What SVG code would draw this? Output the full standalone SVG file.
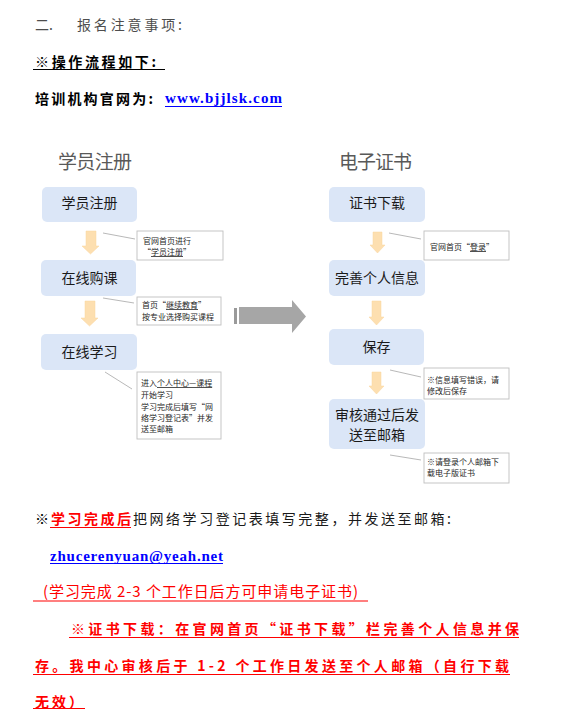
<svg xmlns="http://www.w3.org/2000/svg" width="561" height="719" viewBox="0 0 561 719">
<defs>
<style>
text{font-family:"Noto Sans CJK SC","Liberation Sans",sans-serif;}
.mono{font-family:"Liberation Serif","Noto Sans CJK SC",serif;font-weight:bold;}
.head{font-size:14px;}
.b{font-weight:bold;}
.title{font-size:19px;fill:#595959;}
.box{fill:#dbe6f7;}
.btxt{font-size:14px;fill:#1a1a1a;text-anchor:middle;}
.note{fill:#ffffff;stroke:#bfbfbf;stroke-width:0.9;}
.ntxt{font-size:8px;fill:#262626;}
.u{text-decoration:underline;}
.dn{fill:#fddfb0;stroke:#f8d49f;stroke-width:0.5;}
.lead{stroke:#a6a6a6;stroke-width:0.8;fill:none;}
.red{fill:#ff0000;}
.rl{stroke:#ff0000;stroke-width:1.2;}
</style>
</defs>
<rect width="561" height="719" fill="#ffffff"/>

<g id="header">
<text x="35" y="30" class="head" fill="#4d4d4d">二.</text>
<text x="77" y="30" class="head" fill="#4d4d4d" textLength="105" lengthAdjust="spacing">报名注意事项:</text>
<text x="35" y="67" class="head b" fill="#000" textLength="121" lengthAdjust="spacing">※操作流程如下:</text>
<line x1="33" y1="69.5" x2="165" y2="69.5" stroke="#000" stroke-width="1.2"/>
<text x="35" y="104" class="head b" fill="#000" textLength="118" lengthAdjust="spacing">培训机构官网为:</text>
<text x="165" y="103" class="mono" font-size="15" fill="#0000ff" textLength="117" lengthAdjust="spacing">www.bjjlsk.com</text>
<line x1="165" y1="106.5" x2="282" y2="106.5" stroke="#0000ff" stroke-width="1.2"/>
</g>

<g id="title-left"><text x="58" y="169" class="title" textLength="74" lengthAdjust="spacing">学员注册</text></g>
<g id="title-right"><text x="339" y="169" class="title" textLength="73" lengthAdjust="spacing">电子证书</text></g>

<g id="n-register"><rect class="box" x="42" y="187" width="95" height="35" rx="5"/><text class="btxt" x="89.5" y="208">学员注册</text></g>
<g id="n-buy"><rect class="box" x="41" y="260" width="95" height="36" rx="5"/><text class="btxt" x="89.5" y="283">在线购课</text></g>
<g id="n-study"><rect class="box" x="41" y="334" width="96" height="36" rx="5"/><text class="btxt" x="89.5" y="357">在线学习</text></g>

<g id="n-download"><rect class="box" x="329" y="187" width="96" height="35" rx="5"/><text class="btxt" x="377" y="208">证书下载</text></g>
<g id="n-info"><rect class="box" x="329" y="260" width="96" height="36" rx="5"/><text class="btxt" x="377" y="283">完善个人信息</text></g>
<g id="n-save"><rect class="box" x="329" y="329" width="95" height="36" rx="5"/><text class="btxt" x="376.5" y="352">保存</text></g>
<g id="n-review"><rect class="box" x="329" y="399" width="96" height="50" rx="5"/><text class="btxt" x="377" y="420">审核通过后发</text><text class="btxt" x="377" y="440">送至邮箱</text></g>

<g id="note-1"><rect class="note" x="137" y="231" width="86" height="29"/>
<text class="ntxt" x="143" y="244">官网首页进行</text>
<text class="ntxt" x="143" y="255">“<tspan class="u">学员注册</tspan>”</text></g>
<g id="note-2"><rect class="note" x="137" y="297" width="84" height="28"/>
<text class="ntxt" x="142" y="308">首页“<tspan class="u">继续教育</tspan>”</text>
<text class="ntxt" x="142" y="320">按专业选择购买课程</text></g>
<g id="note-3"><rect class="note" x="137" y="372" width="84" height="67"/>
<text class="ntxt" x="141" y="386">进入<tspan class="u">个人中心—课程</tspan></text>
<text class="ntxt" x="141" y="398">开始学习</text>
<text class="ntxt" x="141" y="410">学习完成后填写“网</text>
<text class="ntxt" x="141" y="421">络学习登记表”并发</text>
<text class="ntxt" x="141" y="432">送至邮箱</text></g>
<g id="note-4"><rect class="note" x="424" y="231" width="85" height="29"/>
<text class="ntxt" x="430" y="250">官网首页“<tspan class="u">登录</tspan>”</text></g>
<g id="note-5"><rect class="note" x="424" y="368" width="85" height="31"/>
<text class="ntxt" x="427" y="383">※信息填写错误，请</text>
<text class="ntxt" x="427" y="394">修改后保存</text></g>
<g id="note-6"><rect class="note" x="424" y="453" width="85" height="30"/>
<text class="ntxt" x="427" y="465">※请登录个人邮箱下</text>
<text class="ntxt" x="427" y="476">载电子版证书</text></g>

<g id="connectors">
<polygon class="dn" points="86,231 96,231 96,246 99,246 90.5,254 82,246 86,246"/>
<polygon class="dn" points="85,301 95,301 95,318 98,318 89.5,326 81,318 85,318"/>
<polygon class="dn" points="373,232 382,232 382,245 385,245 377.5,253 370,245 373,245"/>
<polygon class="dn" points="372,301 381,301 381,317 384,317 376.5,325 369,317 372,317"/>
<polygon class="dn" points="372,372 381,372 381,386 384,386 376.5,394 369,386 372,386"/>
<line class="lead" x1="103" y1="233" x2="135" y2="239"/>
<line class="lead" x1="103" y1="298" x2="134" y2="303"/>
<line class="lead" x1="105" y1="372" x2="132" y2="389"/>
<line class="lead" x1="389" y1="233" x2="421" y2="239"/>
<line class="lead" x1="390" y1="370" x2="421" y2="377"/>
<line class="lead" x1="390" y1="455" x2="421" y2="460"/>
<rect x="234" y="308" width="3" height="16" fill="#9a9a9a"/>
<polygon points="239,307 292,307 292,300 306,316.5 292,333 292,324 239,324" fill="#a6a6a6"/>
</g>

<g id="footer">
<text x="35" y="524" font-size="14" fill="#000">※</text>
<text x="51" y="524" font-size="14" class="b red" textLength="80" lengthAdjust="spacing">学习完成后</text>
<line class="rl" x1="50" y1="527.5" x2="131" y2="527.5"/>
<text x="133" y="524" font-size="14" fill="#1a1a1a" textLength="318" lengthAdjust="spacing">把网络学习登记表填写完整，并发送至邮箱:</text>
<text x="50" y="561" class="mono" font-size="15" fill="#0000ff" textLength="173" lengthAdjust="spacing">zhucerenyuan@yeah.net</text>
<line x1="50" y1="563.5" x2="223" y2="563.5" stroke="#0000ff" stroke-width="1.2"/>
<text x="43" y="597" font-size="15" class="red" textLength="315" lengthAdjust="spacing">(学习完成 2-3 个工作日后方可申请电子证书)</text>
<line class="rl" x1="33" y1="601" x2="368" y2="601"/>
<text x="71" y="634" font-size="14" class="b red" textLength="448" lengthAdjust="spacing">※证书下载：在官网首页“证书下载”栏完善个人信息并保</text>
<line class="rl" x1="69" y1="637.5" x2="519" y2="637.5"/>
<text x="35" y="671" font-size="14" class="b red" textLength="474" lengthAdjust="spacing">存。我中心审核后于 1-2 个工作日发送至个人邮箱（自行下载</text>
<line class="rl" x1="33" y1="674.5" x2="510" y2="674.5"/>
<text x="35" y="707" font-size="14" class="b red" textLength="48" lengthAdjust="spacing">无效）</text>
<line class="rl" x1="33" y1="708.5" x2="85" y2="708.5"/>
</g>
</svg>
